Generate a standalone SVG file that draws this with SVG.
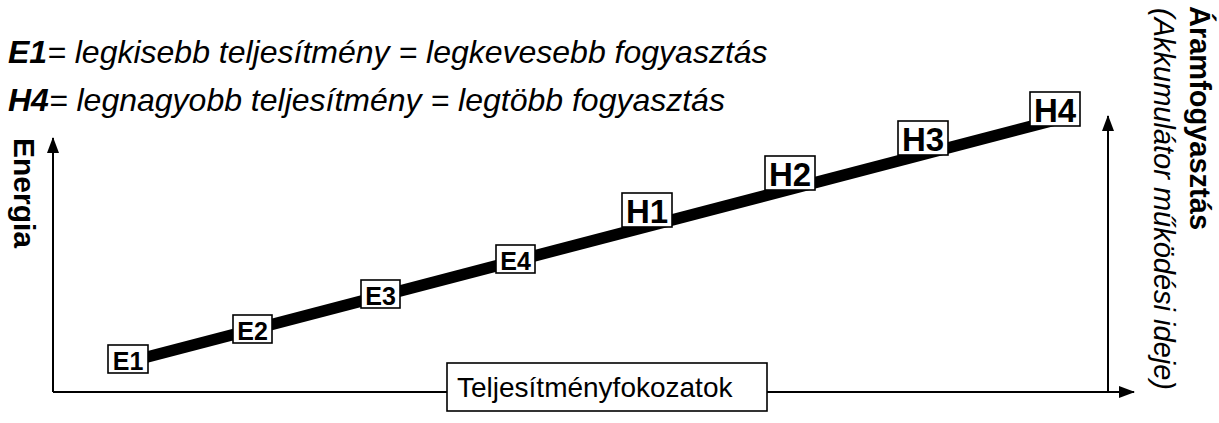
<svg xmlns="http://www.w3.org/2000/svg" width="1219" height="423" viewBox="0 0 1219 423">
<defs>
<style>
.ax{stroke:#000;stroke-width:2;fill:none}
.box{fill:#fff;stroke:#000;stroke-width:1.6}
.lbl{font-family:"Liberation Sans",Arial,sans-serif;font-weight:bold;fill:#000;text-anchor:middle}
.e{font-size:25px}
.h{font-size:33px}
.t{font-family:"Liberation Sans",Arial,sans-serif;fill:#000}
</style>
<marker id="arr" viewBox="0 0 16 12" refX="15" refY="6" markerWidth="16" markerHeight="12" markerUnits="userSpaceOnUse" orient="auto">
<path d="M0,0 L16,6 L0,12 Z" fill="#000"/>
</marker>
</defs>
<rect width="1219" height="423" fill="#fff"/>
<text class="t" x="8" y="63" font-size="32" font-style="italic"><tspan font-weight="bold">E1</tspan>= legkisebb teljesítmény = legkevesebb fogyasztás</text>
<text class="t" x="8" y="111" font-size="32" font-style="italic"><tspan font-weight="bold">H4</tspan>= legnagyobb teljesítmény = legtöbb fogyasztás</text>
<g id="connectors">
<line class="ax" x1="53" y1="392" x2="53" y2="138" marker-end="url(#arr)"/>
<line class="ax" x1="53" y1="392" x2="1134" y2="392" marker-end="url(#arr)"/>
<line class="ax" x1="1108" y1="392" x2="1108" y2="116" marker-end="url(#arr)"/>
<line x1="128" y1="362" x2="1055" y2="120" stroke="#000" stroke-width="11.5"/>
</g>
<g id="axis-y-label"><text class="t" font-size="30" font-weight="bold" transform="translate(14,138) rotate(90)">Energia</text></g>
<g id="axis-right-label">
<text class="t" font-size="29" font-weight="bold" transform="translate(1190,6) rotate(90)">Áramfogyasztás</text>
<text class="t" font-size="29" font-style="italic" transform="translate(1154,8) rotate(90)">(Akkumulátor működési ideje)</text>
</g>
<g id="axis-x-label"><rect class="box" x="447" y="363" width="320" height="48"/><text class="t" x="457" y="397" font-size="28">Teljesítményfokozatok</text></g>
<g id="E1"><rect class="box" x="108" y="345" width="40" height="28"/><text class="lbl e" x="128" y="370">E1</text></g>
<g id="E2"><rect class="box" x="233" y="315" width="39" height="28"/><text class="lbl e" x="252.5" y="340">E2</text></g>
<g id="E3"><rect class="box" x="361" y="280" width="39" height="28"/><text class="lbl e" x="380.5" y="305">E3</text></g>
<g id="E4"><rect class="box" x="496" y="245" width="39" height="28"/><text class="lbl e" x="515.5" y="270">E4</text></g>
<g id="H1"><rect class="box" x="622" y="193" width="50" height="34"/><text class="lbl h" x="647" y="223">H1</text></g>
<g id="H2"><rect class="box" x="765" y="156" width="50" height="34"/><text class="lbl h" x="790" y="186">H2</text></g>
<g id="H3"><rect class="box" x="898" y="121" width="50" height="34"/><text class="lbl h" x="923" y="151">H3</text></g>
<g id="H4"><rect class="box" x="1030" y="92" width="50" height="34"/><text class="lbl h" x="1055" y="122">H4</text></g>
</svg>
